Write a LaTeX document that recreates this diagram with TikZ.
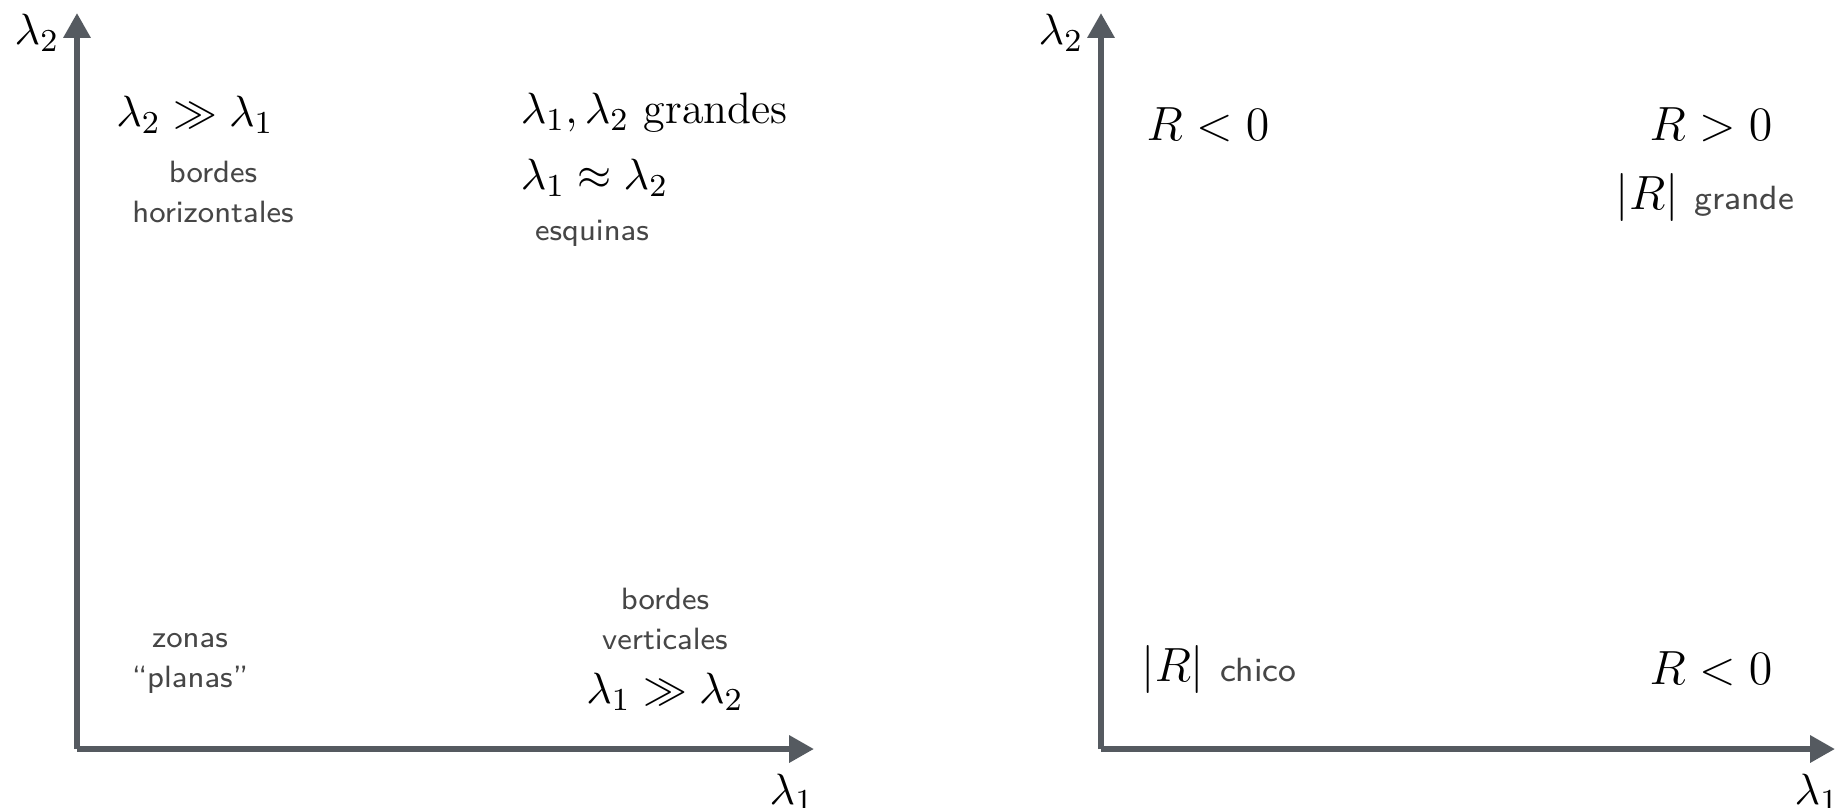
\documentclass[tikz,border=0pt]{standalone}
\usepackage{amsmath,amssymb}
\usetikzlibrary{arrows.meta}
\definecolor{axisgray}{RGB}{85,90,96}
\definecolor{txtgray}{RGB}{70,70,70}
\begin{document}
\begin{tikzpicture}[x=0.25pt,y=-0.25pt,
  axis/.style={draw=axisgray,line width=1.5pt,-{Triangle[width=6.5pt,length=6.2pt]}},
  mtxt/.style={inner sep=0pt,font=\fontsize{11}{13}\selectfont},
  rtxt/.style={inner sep=0pt,font=\fontsize{12.1}{14}\selectfont},
  stxt/.style={inner sep=0pt,text=txtgray,align=center,font=\fontsize{7.7}{10}\selectfont\sffamily}]
\useasboundingbox (0,0) rectangle (1835,807);
% left axes
\coordinate (o1) at (77,749);
\coordinate (t1) at (77,13);
\coordinate (r1) at (814,749);
\draw[axis] (o1) -- (t1);
\draw[axis] (o1) -- (r1);
\node[mtxt] (ly1) at (37,33) {$\lambda_2$};
\node[mtxt] (lx1) at (792,793) {$\lambda_1$};
\node[mtxt] (a) at (195,115) {$\lambda_2 \gg \lambda_1$};
\node[stxt] (b) at (213,192) {bordes\\horizontales};
\node[mtxt,anchor=west] (c) at (520,113) {$\lambda_1, \lambda_2$ grandes};
\node[mtxt,anchor=west] (d) at (520,178) {$\lambda_1 \approx \lambda_2$};
\node[stxt] (e) at (592,233) {esquinas};
\node[stxt] (f) at (190,663) {zonas\\``planas''};
\node[stxt] (g) at (665,619) {bordes\\verticales};
\node[mtxt] (h) at (665,692) {$\lambda_1 \gg \lambda_2$};
% right axes
\coordinate (o2) at (1101,749);
\coordinate (t2) at (1101,13);
\coordinate (r2) at (1835,749);
\draw[axis] (o2) -- (t2);
\draw[axis] (o2) -- (r2);
\node[mtxt] (ly2) at (1061,33) {$\lambda_2$};
\node[mtxt] (lx2) at (1817,793) {$\lambda_1$};
\node[rtxt] (p) at (1208,125) {$R<0$};
\node[rtxt] (q) at (1711,125) {$R>0$};
\node[rtxt] (s) at (1705,197) {$|R|$ {\sffamily\color{txtgray}\fontsize{8.4}{10}\selectfont grande}};
\node[rtxt] (u) at (1219,669) {$|R|$ {\sffamily\color{txtgray}\fontsize{8.4}{10}\selectfont chico}};
\node[rtxt] (v) at (1711,669) {$R<0$};
\end{tikzpicture}
\end{document}
